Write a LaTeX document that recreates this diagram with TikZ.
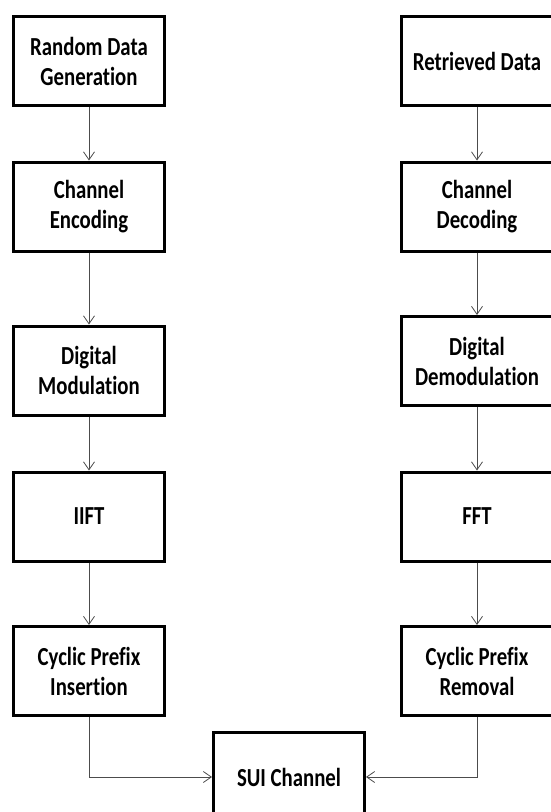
\documentclass[tikz,border=0pt]{standalone}
\usepackage{fontspec}
\setmainfont{Carlito}[Ligatures=NoCommon, FakeStretch=0.8]
\usetikzlibrary{arrows.meta}

\begin{document}
\begin{tikzpicture}[
  x=1pt, y=-1pt,
  blk/.style={draw, line width=3pt, minimum width=151pt, minimum height=89pt,
    align=center, font=\fontsize{26}{30}\selectfont\bfseries},
  arr/.style={draw=black!70, line width=0.8pt, -{Straight Barb[length=8pt, width=11pt]}}
]
\useasboundingbox (0,0) rectangle (551,812);
\node [blk] (gen)   at (89,61)    {Random Data\\Generation};
\node [blk] (enc)   at (89,206.5) {Channel\\Encoding};
\node [blk] (mod)   at (89,370.5) {Digital\\Modulation};
\node [blk] (ifft)  at (89,516.5) {IIFT};
\node [blk] (cpi)   at (89,671)   {Cyclic Prefix\\Insertion};
\node [blk] (ret)   at (477,61)   {Retrieved Data};
\node [blk] (dec)   at (477,206.5) {Channel\\Decoding};
\node [blk] (demod) at (477,361)  {Digital\\Demodulation};
\node [blk] (fft)   at (477,516.5) {FFT};
\node [blk] (cpr)   at (477,671)  {Cyclic Prefix\\Removal};
\node [blk] (sui)   at (289,777)  {SUI Channel};
\draw [arr] (gen) -- (enc);
\draw [arr] (enc) -- (mod);
\draw [arr] (mod) -- (ifft);
\draw [arr] (ifft) -- (cpi);
\draw [arr] (ret) -- (dec);
\draw [arr] (dec) -- (demod);
\draw [arr] (demod) -- (fft);
\draw [arr] (fft) -- (cpr);
\draw [arr] (cpi.south) |- (sui.west);
\draw [arr] (cpr.south) |- (sui.east);
\end{tikzpicture}
\end{document}
